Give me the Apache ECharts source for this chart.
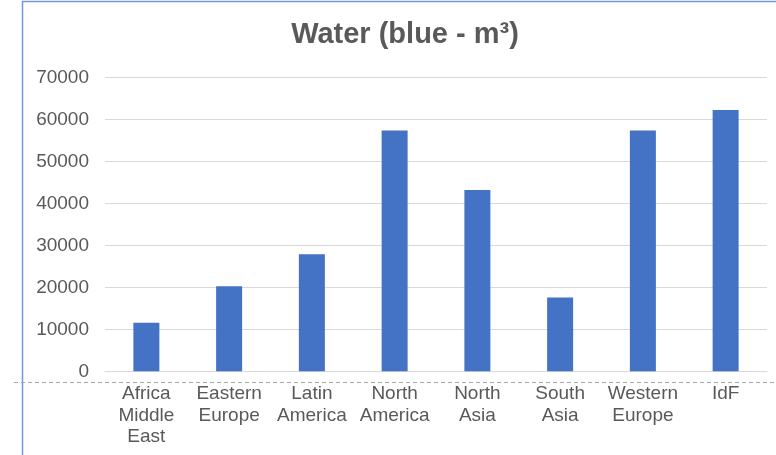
<!DOCTYPE html>
<html>
<head>
<meta charset="utf-8">
<script src="https://cdn.jsdelivr.net/npm/echarts@6/dist/echarts.min.js"></script>
<style>
  html, body { margin: 0; padding: 0; background: #ffffff; }
  #chart { width: 776px; height: 455px; }
</style>
</head>
<body>
<div id="chart"></div>
<script>
// Blue water footprint by region (m³)
const regions = ['Africa\nMiddle\nEast', 'Eastern\nEurope', 'Latin\nAmerica', 'North\nAmerica', 'North\nAsia', 'South\nAsia', 'Western\nEurope', 'IdF'];
const blueWater = [11600, 20300, 27900, 57400, 43200, 17600, 57400, 62300];
const yTicks = [0, 10000, 20000, 30000, 40000, 50000, 60000, 70000];

const chart = echarts.init(document.getElementById('chart'), null, { renderer: 'canvas' });

const textColor = '#595959';
const font = '"Liberation Sans", Arial, sans-serif';

chart.setOption({
  animation: false,
  backgroundColor: '#ffffff',
  grid: { left: 105, right: 9, top: 77.7, bottom: 83.7, containLabel: false },
  xAxis: {
    type: 'category',
    data: regions,
    axisLine: { show: true, lineStyle: { color: '#d9d9d9', width: 1 } },
    axisTick: { show: false },
    axisLabel: {
      interval: 0,
      margin: 12,
      color: textColor,
      fontFamily: font,
      fontSize: 19,
      lineHeight: 21.5
    }
  },
  yAxis: {
    type: 'value',
    min: yTicks[0],
    max: yTicks[yTicks.length - 1],
    interval: 10000,
    axisLine: { show: false },
    axisTick: { show: false },
    axisLabel: {
      margin: 16,
      color: textColor,
      fontFamily: font,
      fontSize: 19,
      formatter: (v) => String(v)
    },
    splitLine: { show: true, lineStyle: { color: '#d9d9d9', width: 1 } }
  },
  series: [{
    type: 'bar',
    data: blueWater,
    barWidth: 26,
    itemStyle: { color: '#4472c4' }
  }],
  graphic: [
    {
      type: 'text',
      x: 405, y: 35,
      style: {
        text: 'Water (blue - m³)',
        fill: textColor,
        font: 'bold 29px "Liberation Sans", Arial, sans-serif',
        textAlign: 'center',
        textVerticalAlign: 'middle'
      }
    },
    {
      type: 'line',
      shape: { x1: 22.5, y1: 1.5, x2: 22.5, y2: 455 },
      style: { stroke: '#6f96d8', lineWidth: 1.5 }
    },
    {
      type: 'line',
      shape: { x1: 22, y1: 1.5, x2: 776, y2: 1.5 },
      style: { stroke: '#6f96d8', lineWidth: 1.5 }
    },
    {
      type: 'line',
      shape: { x1: 14, y1: 382.5, x2: 776, y2: 382.5 },
      style: { stroke: '#a6a6a6', lineWidth: 1, lineDash: [4, 3] }
    }
  ]
});
</script>
</body>
</html>
